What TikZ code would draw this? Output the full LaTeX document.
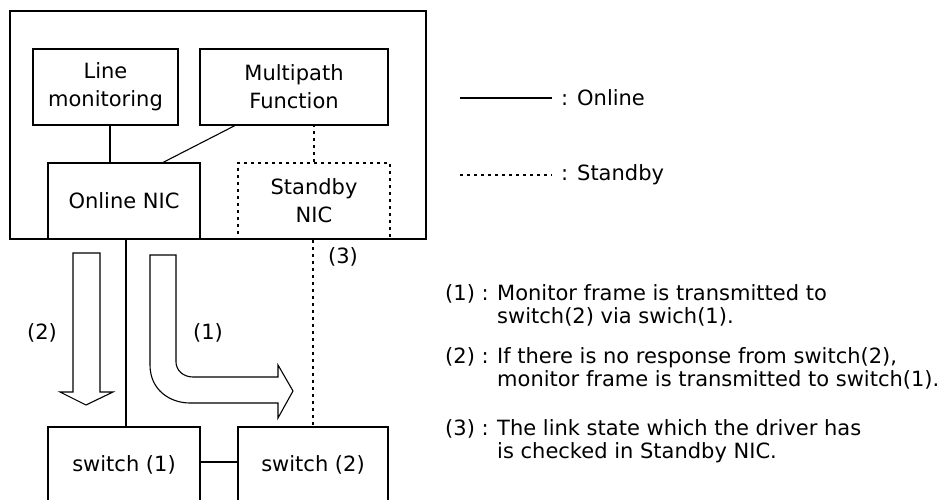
\documentclass[tikz,border=0pt]{standalone}
\usepackage{fontspec}
\setmainfont{DejaVu Sans}
\usetikzlibrary{positioning}

\tikzset{
  every node/.style={font=\fontsize{21}{28}\selectfont},
  online/.style={line width=1.1pt},
  standby/.style={line width=1.1pt, dash pattern=on 3pt off 4pt},
  unit/.style={draw, online, align=center, minimum height=76pt, inner sep=0pt},
  flowarrow/.style={draw, line width=1.1pt, fill=white, line join=miter},
  note/.style={anchor=north west, inner sep=0pt, align=left, font=\fontsize{21}{23}\selectfont},
}

\begin{document}
\begin{tikzpicture}[x=1pt, y=-1pt]
	\useasboundingbox (0,0) rectangle (948,500);
	\clip (0,0) rectangle (948,500);
	\draw [online] (10,11) rectangle (426,239);
	\node [unit, minimum width=145pt] (lmon) at (105.5,87) {Line\\monitoring};
	\node [unit, minimum width=188pt] (mpath) at (294,87) {Multipath\\Function};
	\node [unit, minimum width=152pt] (onic) at (124,201) {Online NIC};
	\node [unit, minimum width=152pt, standby] (snic) at (314,201) {Standby\\NIC};
	\node [unit, minimum width=152pt] (sw1) at (124,465) {switch (1)};
	\node [unit, minimum width=150pt] (sw2) at (313,465) {switch (2)};

	%% inside the server
	\draw [online] ([xshift=4.5pt]lmon.south) -- ([xshift=4.5pt]lmon.south |- onic.north);
	\draw [online] ([xshift=-59pt]mpath.south) -- ([xshift=39pt]onic.north);
	\draw [standby] (snic.north) -- (snic.north |- mpath.south);

	%% to the switches
	\draw [online] ([xshift=2pt]onic.south) -- ([xshift=2pt]sw1.north);
	\draw [standby] ([xshift=-1pt]snic.south) -- (sw2.north);
	\draw [online] ([yshift=3pt]sw1.east) -- ([yshift=3pt]sw2.west);
	\node (lab3) at (343,257) {(3)};

	%% monitoring paths
	\draw [flowarrow] (73,253) -- (73,392) -- (60,392) -- (86,405) -- (113,392) -- (100,392) -- (100,253) -- cycle;
	\node (lab2) at (42,333) {(2)};
	\draw [flowarrow] (150,255) -- (150,365) .. controls (150,390) and (170,403) .. (190,403)
		-- (278,403) -- (278,418) -- (293,391) -- (278,365) -- (278,377) -- (193,377)
		.. controls (183,377) and (176,370) .. (176,362) -- (176,255) -- cycle;
	\node (lab1) at (208,333) {(1)};

	%% legend
	\coordinate (on1) at (460,98);
	\coordinate (sb1) at (460,175);
	\node [anchor=west, inner sep=0pt] (onlab) at (561,98) {: Online};
	\node [anchor=west, inner sep=0pt] (sblab) at (561,175) {: Standby};
	\draw [online] (on1) -- (on1 -| 552,0);
	\draw [standby] (sb1) -- (sb1 -| 552,0);

	%% notes
	\node [note] (n1) at (445,284) {(1) :};
	\node [note] (t1) at (497,284) {Monitor frame is transmitted to\\switch(2) via swich(1).};
	\node [note] (n2) at (445,347) {(2) :};
	\node [note] (t2) at (497,347) {If there is no response from switch(2),\\monitor frame is transmitted to switch(1).};
	\node [note] (n3) at (445,419) {(3) :};
	\node [note] (t3) at (497,419) {The link state which the driver has\\is checked in Standby NIC.};
\end{tikzpicture}
\end{document}
